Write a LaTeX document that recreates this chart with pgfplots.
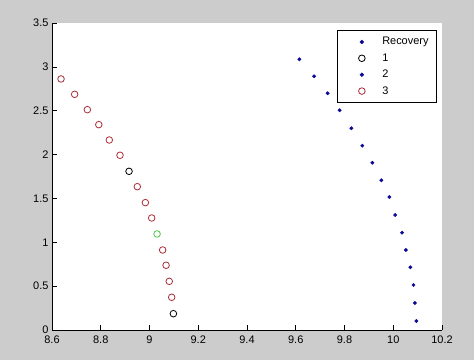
\documentclass[border=0pt]{standalone}
\usepackage{fontspec}
\setmainfont{Liberation Sans}
\usepackage{pgfplots}
\pgfplotsset{compat=1.18}
\definecolor{figbg}{RGB}{204,204,204}
\definecolor{mblue}{RGB}{10,10,150}
\definecolor{mred}{RGB}{170,45,55}
\definecolor{mgreen}{RGB}{80,200,80}
\begin{document}
\begin{tikzpicture}
\fill[figbg] (0,0) rectangle (474bp,360bp);
\begin{axis}[
  at={(52bp,30bp)}, anchor=south west,
  width=390bp, height=307bp, scale only axis,
  xmin=8.6, xmax=10.2, ymin=0, ymax=3.5,
  axis x line*=bottom, axis y line*=left,
  axis line style={-, black, line width=0.8bp},
  axis background/.style={fill=white},
  xtick={8.6,8.8,9,9.2,9.4,9.6,9.8,10,10.2},
  xticklabels={8.6,8.8,9,9.2,9.4,9.6,9.8,10,10.2},
  ytick={0,0.5,1,1.5,2,2.5,3,3.5},
  yticklabels={0,0.5,1,1.5,2,2.5,3,3.5},
  tick align=inside, major tick length=5bp,
  tick style={black, line width=0.6bp},
  ticklabel style={font=\fontsize{11}{13}\selectfont},
  xticklabel style={yshift=-2bp},
  legend style={at={(0.987,0.977)}, anchor=north east, draw=black,
    line width=0.8bp, fill=white, font=\fontsize{11}{13}\selectfont,
    cells={anchor=west}, inner xsep=6bp, inner ysep=5bp, row sep=3.3bp},
  legend image code/.code={\path (0bp,0bp) (36bp,0bp); \draw[mark repeat=2,mark phase=2,#1] plot coordinates {(0bp,0bp)(18bp,0bp)(36bp,0bp)};},
  clip=false,
]
\addlegendimage{only marks, mark=*, mark size=1.7bp, mblue, mark options={draw=mblue, fill=mblue}}
\addlegendentry{Recovery}
\addplot[only marks, mark=o, mark size=3.3bp, black, mark options={line width=0.8bp}]
  coordinates {(8.916,1.809) (9.098,0.186)};
\addlegendentry{1}
\addplot[only marks, mark=*, mark size=1.7bp, mblue, mark options={draw=mblue, fill=mblue}]
  coordinates {
  (9.615,3.086) (9.675,2.893) (9.731,2.699) (9.780,2.505) (9.828,2.300)
  (9.873,2.101) (9.914,1.907) (9.951,1.707) (9.984,1.516) (10.008,1.311)
  (10.036,1.109) (10.052,0.912) (10.070,0.715) (10.083,0.513) (10.089,0.308)
  (10.095,0.103)};
\addlegendentry{2}
\addplot[only marks, mark=o, mark size=3.3bp, mred, mark options={line width=0.8bp}]
  coordinates {
  (8.637,2.862) (8.693,2.687) (8.745,2.512) (8.792,2.341) (8.835,2.166)
  (8.879,1.992) (8.950,1.634) (8.983,1.452) (9.009,1.277) (9.054,0.912)
  (9.068,0.738) (9.081,0.555) (9.091,0.373)};
\addlegendentry{3}
\addplot[only marks, mark=o, mark size=3.3bp, mgreen, mark options={line width=0.8bp}, forget plot]
  coordinates {(9.031,1.095)};
\end{axis}
\end{tikzpicture}
\end{document}
